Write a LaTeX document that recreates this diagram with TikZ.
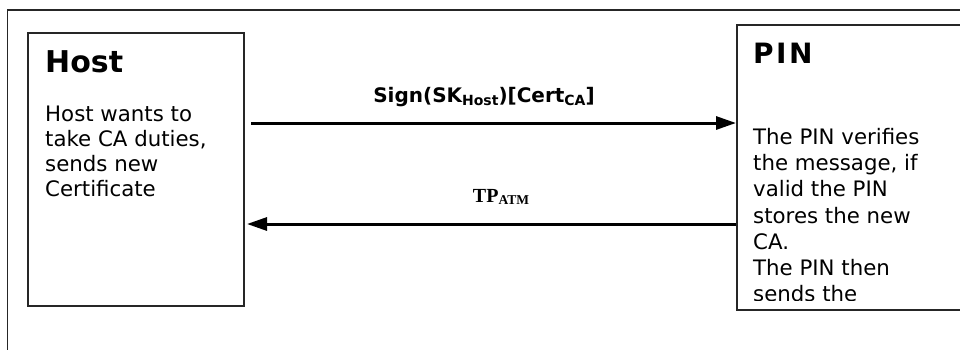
\documentclass[tikz,border=0pt]{standalone}
\usepackage{fontspec}
\setmainfont{DejaVu Sans}
\newfontfamily\tnr{Liberation Serif}
\usetikzlibrary{arrows.meta}
\begin{document}
\begin{tikzpicture}[x=1pt,y=-1pt,
  box/.style={draw=black!85, line width=1.5pt, inner sep=0pt, anchor=north west},
  msg/.style={line width=3pt, -{Triangle[length=20pt,width=13pt]}},
  ttl/.style={anchor=base west, inner sep=0pt, font=\bfseries\fontsize{30}{30}\selectfont},
  body/.style={anchor=north west, inner sep=0pt, align=left, font=\fontsize{21.3}{25}\selectfont},
  lbl/.style={anchor=base, inner sep=0pt}]
\useasboundingbox (0,0) rectangle (960,349);
\clip (0,0) rectangle (960,349);
\fill[white] (0,0) rectangle (960,349);
% outer frame (clipped at right and bottom)
\node[box, minimum width=1000pt, minimum height=400pt] (frame) at (6.5,9) {};
% Host
\node[box, minimum width=216pt, minimum height=273pt] (host) at (27,32) {};
\node[ttl] (hosttitle) at (45,72) {Host};
\node[body] (hostbody) at (45,106.2) {Host wants to\\take CA duties,\\sends new\\Certificate};
% PIN
\node[box, minimum width=300pt, minimum height=285pt] (pin) at (736,24) {};
\node[ttl, font=\bfseries\fontsize{28}{28}\selectfont] (pintitle) at (753,63) {P\kern2.5pt I\kern2.5pt N};
\begin{scope}
\clip (737,25) rectangle (960,300);
\node[body, font=\fontsize{21.3}{26.3}\selectfont] (pinbody) at (753,127.8) {The PIN verifies\\the message, if\\valid the PIN\\stores the new\\CA.\\The PIN then\\sends the};
\end{scope}
% messages
\coordinate (s1) at (251,123);
\draw[msg] (s1) -- (s1 -| pin.west);
\node[lbl, font=\bfseries\fontsize{20}{24}\selectfont] (sig) at (484,102)
  {Sign(SK\raisebox{-3pt}{\fontsize{14}{14}\selectfont Host})[Cert\raisebox{-3pt}{\fontsize{14}{14}\selectfont CA}]};
\coordinate (e2) at (247,224);
\draw[msg] (e2 -| pin.west) -- (e2);
\node[lbl, font=\tnr\bfseries\fontsize{20}{24}\selectfont] (tp) at (501,202)
  {TP\raisebox{-2pt}{\fontsize{13.5}{13.5}\selectfont ATM}};
\end{tikzpicture}
\end{document}
